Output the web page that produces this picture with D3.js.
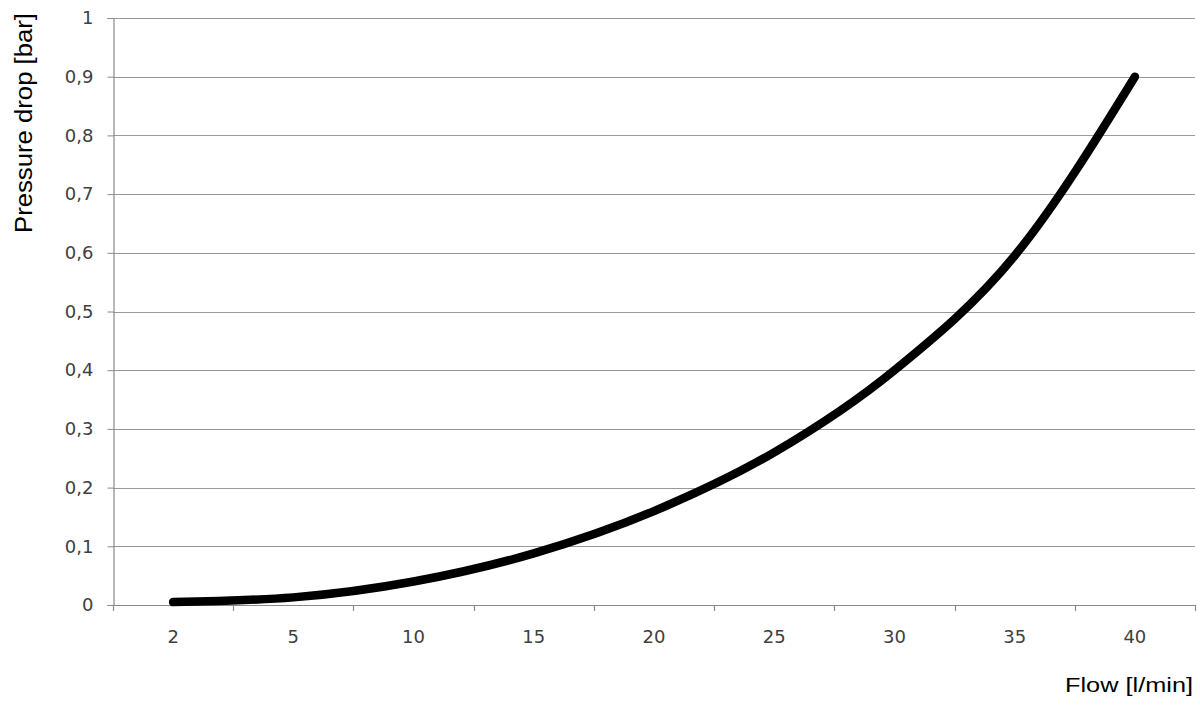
<!DOCTYPE html>
<html><head><meta charset="utf-8">
<script src="https://cdn.jsdelivr.net/npm/d3@7"></script>
<style>body{margin:0;background:#fff}svg{display:block}</style>
</head><body>
<svg id="c" width="1200" height="706"></svg>
<script>
const categories = ["2","5","10","15","20","25","30","35","40"];
const pressure = [0.005, 0.013, 0.04, 0.088, 0.16, 0.26, 0.40, 0.595, 0.90];
const yTicks = [0,0.1,0.2,0.3,0.4,0.5,0.6,0.7,0.8,0.9,1];

const svg = d3.select("#c");
const L = 113, R = 1195, T = 18, B = 605;
const x = d3.scaleBand().domain(categories).range([L, R]);
const y = d3.scaleLinear().domain([0, 1]).range([B, T]);
const fmt = v => String(v).replace(".", ",");

// gridlines
svg.append("g").selectAll("line").data(yTicks.filter(d => d > 0)).join("line")
  .attr("x1", L).attr("x2", R)
  .attr("y1", d => Math.round(y(d)) + 0.5).attr("y2", d => Math.round(y(d)) + 0.5)
  .attr("stroke", "#9a9a9a").attr("stroke-width", 1.2);

// y axis
const ya = svg.append("g").attr("transform", `translate(${L + 0.5},0)`)
  .call(d3.axisLeft(y).tickValues(yTicks).tickFormat(fmt).tickSize(6).tickPadding(14));
ya.select(".domain").attr("stroke", "#8a8a8a").attr("stroke-width", 1.2);
ya.selectAll(".tick line").attr("stroke", "#8a8a8a");
ya.selectAll(".tick text").attr("font-family", "DejaVu Sans, Verdana, sans-serif")
  .attr("font-size", 18).attr("fill", "#404040");

// x axis baseline + boundary ticks
svg.append("line").attr("x1", L).attr("x2", R).attr("y1", B + 0.5).attr("y2", B + 0.5)
  .attr("stroke", "#8a8a8a").attr("stroke-width", 1.2);
const bounds = categories.map(c => x(c)).concat([x(categories[categories.length - 1]) + x.bandwidth()]);
svg.append("g").selectAll("line").data(bounds).join("line")
  .attr("x1", d => Math.round(d) + 0.5).attr("x2", d => Math.round(d) + 0.5)
  .attr("y1", B).attr("y2", B + 6).attr("stroke", "#8a8a8a").attr("stroke-width", 1.2);
svg.append("g").selectAll("text").data(categories).join("text")
  .attr("x", d => x(d) + x.bandwidth() / 2).attr("y", 643)
  .attr("text-anchor", "middle")
  .attr("font-family", "DejaVu Sans, Verdana, sans-serif").attr("font-size", 18)
  .attr("fill", "#404040").text(d => d);

// line
const line = d3.line()
  .x((d, i) => x(categories[i]) + x.bandwidth() / 2)
  .y(d => y(d))
  .curve(d3.curveMonotoneX);
svg.append("path").datum(pressure).attr("d", line)
  .attr("fill", "none").attr("stroke", "#000").attr("stroke-width", 8.5)
  .attr("stroke-linecap", "round").attr("stroke-linejoin", "round");

// axis titles
svg.append("text").attr("transform", "translate(32,123) rotate(-90)")
  .attr("text-anchor", "middle").attr("font-family", "Liberation Sans, Arial, sans-serif")
  .attr("font-size", 23).attr("fill", "#000")
  .attr("textLength", 220).attr("lengthAdjust", "spacingAndGlyphs")
  .text("Pressure drop [bar]");
svg.append("text").attr("x", 1065).attr("y", 692).attr("text-anchor", "start")
  .attr("font-family", "Liberation Sans, Arial, sans-serif")
  .attr("font-size", 21).attr("fill", "#000")
  .attr("textLength", 128).attr("lengthAdjust", "spacingAndGlyphs")
  .text("Flow [l/min]");
</script>
</body></html>
